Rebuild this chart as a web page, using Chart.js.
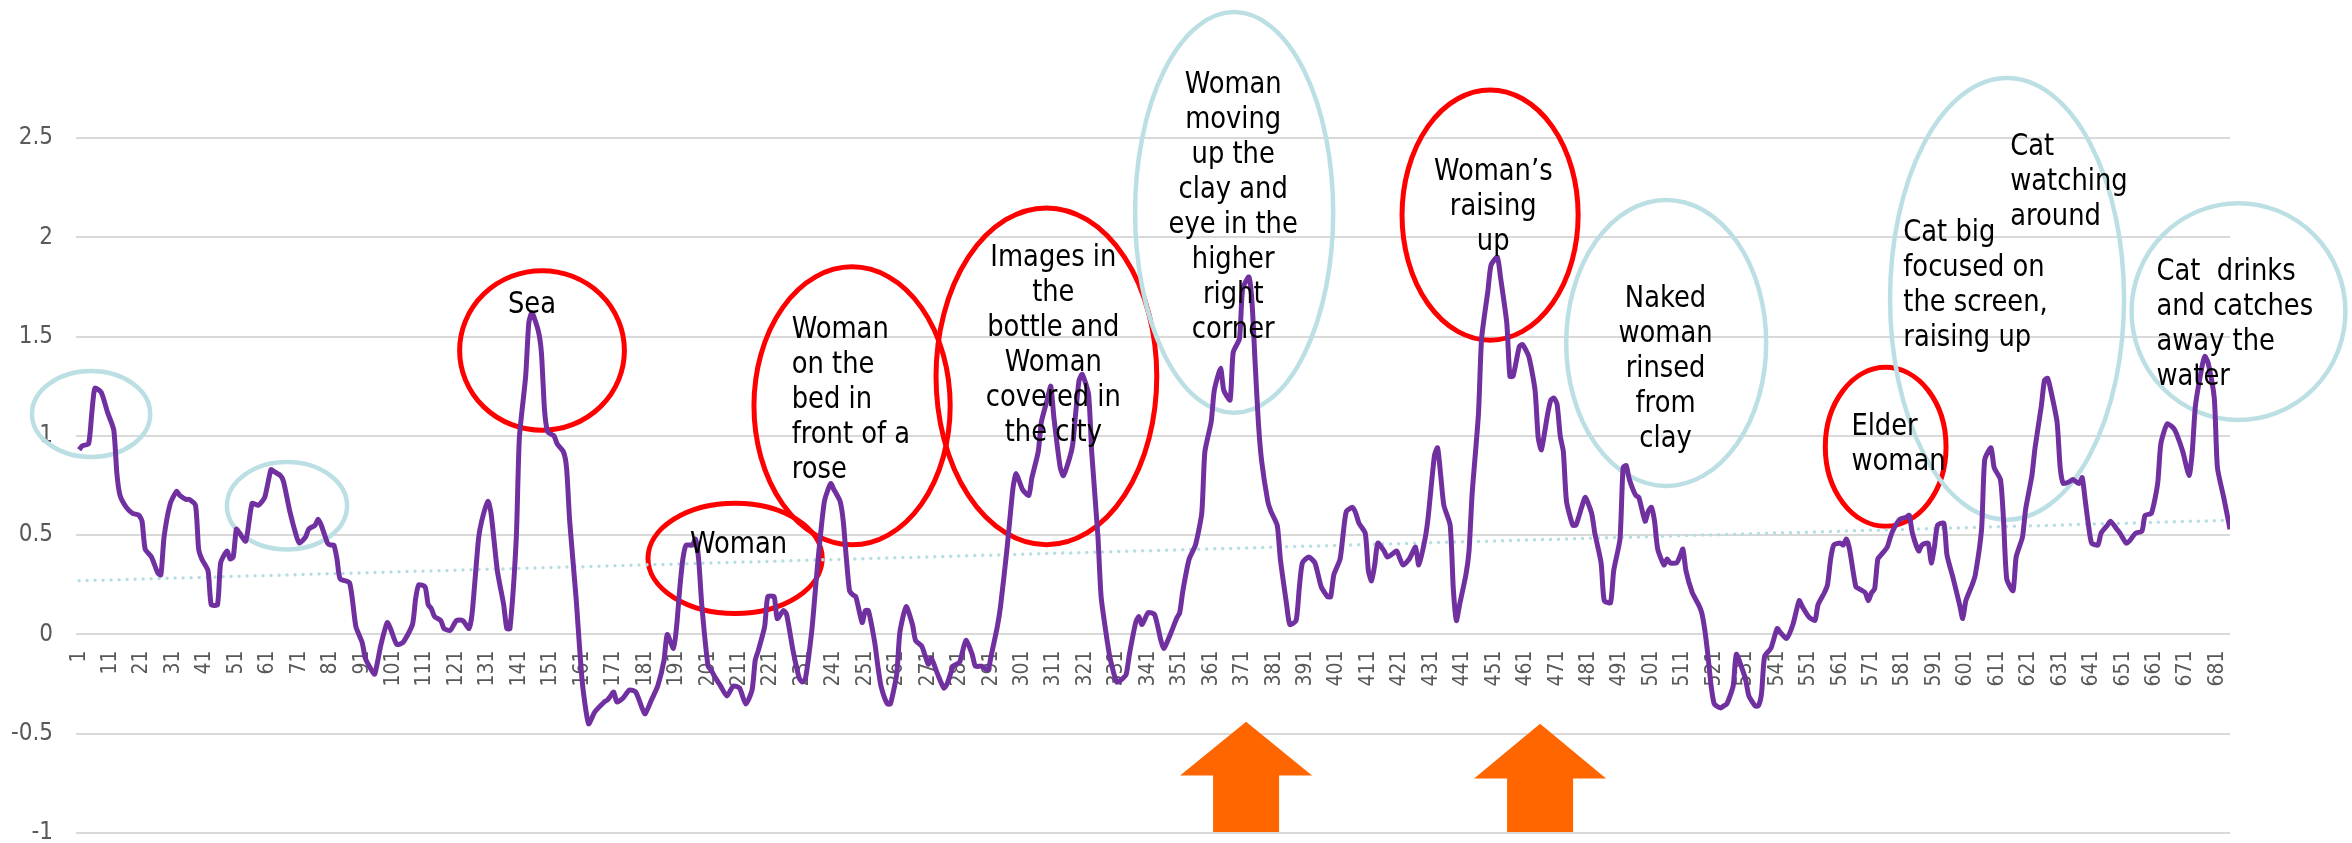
<!DOCTYPE html>
<html>
<head>
<meta charset="utf-8">
<script src="https://cdn.jsdelivr.net/npm/chart.js@4.4.1/dist/chart.umd.min.js"></script>
<style>
  html, body { margin: 0; padding: 0; background: #fff; }
</style>
</head>
<body>
<canvas id="chart" width="2352" height="843"></canvas>
<script>
const FONT = '"DejaVu Sans Condensed", "DejaVu Sans", sans-serif';
const RED = '#ff0000';
const BLUE = '#bcdfe4';

// frame index (x) and value (y)
const frames = [
  1, 2, 4, 5, 6, 8, 10, 12, 13, 14, 16, 18, 20, 21, 22, 24, 26, 27, 28, 30,
  32, 33, 35, 36, 38, 39, 40, 42, 43, 45, 46, 48, 49, 50, 51, 52, 54, 56, 58, 60,
  62, 63, 65, 66, 68, 70, 71, 73, 74, 76, 77, 78, 80, 81, 82, 83, 84, 87, 89, 91,
  92, 94, 95, 97, 99, 100, 102, 104, 107, 108, 109, 111, 112, 113, 114, 116, 117, 119, 121, 123,
  125, 126, 128, 129, 131, 132, 134, 136, 137, 138, 140, 141, 143, 144, 145, 147, 148, 149, 150, 152,
  153, 155, 156, 157, 159, 161, 163, 165, 168, 169, 170, 171, 172, 174, 176, 178, 180, 181, 183, 185,
  187, 188, 190, 191, 192, 193, 194, 196, 197, 198, 199, 201, 202, 203, 205, 207, 209, 211, 213, 215,
  216, 217, 219, 220, 222, 223, 225, 226, 228, 230, 231, 232, 234, 235, 236, 238, 240, 241, 243, 244,
  245, 246, 247, 248, 250, 251, 252, 254, 255, 256, 258, 259, 261, 262, 264, 266, 267, 269, 271, 272,
  274, 276, 277, 279, 281, 283, 285, 286, 288, 290, 291, 293, 294, 296, 298, 299, 301, 303, 304, 306,
  307, 309, 310, 311, 313, 314, 316, 317, 318, 319, 320, 322, 323, 325, 326, 328, 329, 331, 333, 334,
  335, 337, 338, 339, 341, 343, 345, 346, 348, 350, 351, 352, 354, 356, 358, 359, 361, 362, 364, 365,
  367, 368, 370, 371, 373, 374, 375, 376, 377, 379, 380, 382, 383, 385, 386, 388, 389, 390, 392, 394,
  396, 398, 399, 400, 402, 403, 404, 406, 407, 408, 410, 411, 412, 413, 414, 416, 417, 419, 420, 422,
  424, 426, 427, 429, 430, 432, 433, 434, 435, 437, 438, 439, 440, 442, 443, 444, 446, 447, 449, 450,
  452, 453, 455, 456, 457, 459, 460, 462, 464, 465, 466, 468, 469, 470, 471, 472, 473, 474, 476, 477,
  479, 480, 482, 483, 485, 486, 488, 489, 491, 492, 493, 494, 496, 497, 499, 500, 501, 502, 503, 505,
  506, 507, 509, 510, 511, 512, 514, 516, 517, 518, 519, 520, 521, 523, 524, 525, 527, 528, 530, 531,
  532, 534, 535, 536, 537, 539, 541, 542, 544, 546, 548, 549, 551, 553, 554, 556, 557, 558, 559, 561,
  562, 563, 564, 566, 567, 569, 570, 571, 572, 573, 574, 576, 577, 578, 580, 582, 583, 584, 586, 587,
  589, 590, 591, 592, 594, 595, 597, 599, 600, 601, 603, 604, 606, 607, 609, 610, 612, 613, 614, 616,
  617, 619, 620, 622, 623, 625, 626, 627, 628, 630, 631, 632, 634, 635, 637, 638, 639, 640, 641, 643,
  644, 646, 647, 649, 650, 652, 653, 655, 657, 658, 660, 662, 663, 665, 667, 668, 670, 672, 673, 674,
  676, 677, 678, 680, 681, 683, 685
];
const scores = [
  0.93, 0.95, 0.96, 1.11, 1.24, 1.22, 1.12, 1.03, 0.81, 0.70, 0.64, 0.61, 0.60, 0.57, 0.43, 0.39, 0.31, 0.30, 0.49, 0.66,
  0.72, 0.70, 0.68, 0.68, 0.65, 0.43, 0.38, 0.32, 0.15, 0.15, 0.36, 0.42, 0.38, 0.39, 0.53, 0.51, 0.47, 0.66, 0.65, 0.69,
  0.83, 0.82, 0.80, 0.77, 0.62, 0.50, 0.46, 0.49, 0.53, 0.55, 0.58, 0.55, 0.46, 0.45, 0.45, 0.38, 0.28, 0.26, 0.04, -0.04,
  -0.12, -0.18, -0.20, -0.05, 0.06, 0.03, -0.05, -0.04, 0.05, 0.18, 0.25, 0.24, 0.15, 0.13, 0.09, 0.07, 0.03, 0.02, 0.07, 0.07,
  0.03, 0.11, 0.48, 0.57, 0.67, 0.61, 0.32, 0.15, 0.03, 0.03, 0.48, 0.99, 1.30, 1.57, 1.62, 1.53, 1.42, 1.13, 1.02, 1.00,
  0.96, 0.92, 0.84, 0.57, 0.19, -0.24, -0.45, -0.39, -0.34, -0.33, -0.31, -0.29, -0.34, -0.32, -0.28, -0.29, -0.37, -0.40, -0.33, -0.26,
  -0.13, 0.00, -0.07, 0.04, 0.23, 0.38, 0.45, 0.45, 0.48, 0.38, 0.15, -0.16, -0.18, -0.21, -0.26, -0.31, -0.26, -0.27, -0.35, -0.28,
  -0.13, -0.08, 0.04, 0.19, 0.19, 0.08, 0.12, 0.10, -0.08, -0.22, -0.24, -0.22, 0.02, 0.20, 0.38, 0.67, 0.76, 0.73, 0.67, 0.57,
  0.38, 0.22, 0.20, 0.19, 0.06, 0.12, 0.12, -0.04, -0.16, -0.26, -0.35, -0.35, -0.20, 0.01, 0.14, 0.05, -0.03, -0.06, -0.15, -0.12,
  -0.20, -0.27, -0.25, -0.16, -0.14, -0.03, -0.10, -0.16, -0.16, -0.18, -0.11, 0.04, 0.14, 0.42, 0.74, 0.81, 0.73, 0.70, 0.79, 0.92,
  1.07, 1.19, 1.25, 1.09, 0.84, 0.80, 0.89, 0.96, 1.13, 1.28, 1.31, 1.21, 0.92, 0.49, 0.19, -0.04, -0.13, -0.24, -0.22, -0.20,
  -0.10, 0.06, 0.09, 0.05, 0.11, 0.10, -0.03, -0.07, 0.00, 0.08, 0.11, 0.22, 0.38, 0.45, 0.61, 0.92, 1.07, 1.23, 1.34, 1.23,
  1.18, 1.42, 1.49, 1.74, 1.80, 1.67, 1.36, 1.07, 0.88, 0.67, 0.62, 0.55, 0.38, 0.15, 0.05, 0.07, 0.23, 0.36, 0.39, 0.36,
  0.24, 0.19, 0.19, 0.30, 0.38, 0.51, 0.62, 0.64, 0.61, 0.56, 0.51, 0.32, 0.27, 0.35, 0.46, 0.42, 0.39, 0.41, 0.42, 0.35,
  0.38, 0.44, 0.35, 0.48, 0.59, 0.90, 0.94, 0.80, 0.65, 0.55, 0.23, 0.07, 0.15, 0.30, 0.42, 0.71, 1.11, 1.49, 1.73, 1.86,
  1.90, 1.80, 1.57, 1.30, 1.30, 1.45, 1.46, 1.40, 1.23, 0.99, 0.93, 1.11, 1.18, 1.19, 1.16, 1.00, 0.92, 0.67, 0.55, 0.55,
  0.65, 0.69, 0.61, 0.51, 0.36, 0.17, 0.16, 0.32, 0.48, 0.84, 0.85, 0.78, 0.70, 0.69, 0.57, 0.62, 0.64, 0.57, 0.43, 0.35,
  0.38, 0.36, 0.36, 0.39, 0.43, 0.32, 0.21, 0.15, 0.11, 0.02, -0.11, -0.26, -0.35, -0.37, -0.36, -0.35, -0.26, -0.10, -0.18, -0.23,
  -0.31, -0.36, -0.36, -0.30, -0.11, -0.07, 0.03, 0.01, -0.02, 0.05, 0.17, 0.14, 0.09, 0.07, 0.15, 0.21, 0.25, 0.38, 0.45, 0.46,
  0.45, 0.48, 0.43, 0.24, 0.23, 0.21, 0.17, 0.21, 0.23, 0.38, 0.40, 0.44, 0.49, 0.53, 0.58, 0.59, 0.60, 0.51, 0.42, 0.45,
  0.46, 0.36, 0.44, 0.55, 0.56, 0.40, 0.28, 0.15, 0.08, 0.17, 0.25, 0.30, 0.53, 0.88, 0.94, 0.84, 0.78, 0.57, 0.28, 0.22,
  0.39, 0.49, 0.63, 0.80, 0.94, 1.15, 1.28, 1.29, 1.23, 1.07, 0.84, 0.76, 0.77, 0.78, 0.76, 0.79, 0.67, 0.55, 0.46, 0.45,
  0.51, 0.55, 0.57, 0.53, 0.51, 0.46, 0.47, 0.51, 0.52, 0.60, 0.61, 0.76, 0.96, 1.06, 1.04, 1.01, 0.92, 0.80, 0.92, 1.15,
  1.34, 1.40, 1.37, 1.19, 0.84, 0.69, 0.53
];

// linear trend line end points
const trendFrames = [1, 685];
const trendScores = [0.27, 0.575];

// category tick labels on the x axis
const xTicks = [
  1, 11, 21, 31, 41, 51, 61, 71, 81, 91, 101, 111, 121, 131, 141, 151, 161, 171, 181, 191,
  201, 211, 221, 231, 241, 251, 261, 271, 281, 291, 301, 311, 321, 331, 341, 351, 361, 371, 381, 391,
  401, 411, 421, 431, 441, 451, 461, 471, 481, 491, 501, 511, 521, 531, 541, 551, 561, 571, 581, 591,
  601, 611, 621, 631, 641, 651, 661, 671, 681
];

// hand-drawn ellipses (centre and radii in frame / value units)
const ellipses = [
  { cx: 4.8, cy: 1.11, rx: 18.8, ry: 0.216, color: BLUE },
  { cx: 67.1, cy: 0.648, rx: 19.1, ry: 0.22, color: BLUE },
  { cx: 148.2, cy: 1.43, rx: 26.2, ry: 0.402, color: RED },
  { cx: 209.6, cy: 0.383, rx: 27.7, ry: 0.277, color: RED },
  { cx: 246.8, cy: 1.151, rx: 31.2, ry: 0.70, color: RED },
  { cx: 308.6, cy: 1.30, rx: 35.1, ry: 0.848, color: RED },
  { cx: 368.3, cy: 2.125, rx: 31.5, ry: 1.009, color: BLUE },
  { cx: 449.7, cy: 2.112, rx: 28, ry: 0.63, color: RED },
  { cx: 505.7, cy: 1.468, rx: 31.8, ry: 0.72, color: BLUE },
  { cx: 575.5, cy: 0.945, rx: 19.2, ry: 0.40, color: RED },
  { cx: 614.1, cy: 1.69, rx: 37.2, ry: 1.112, color: BLUE },
  { cx: 687.7, cy: 1.626, rx: 34, ry: 0.546, color: BLUE }
];

// captions: x in frames, y = first baseline in value units
const captions = [
  { x: 145.0, y: 1.62, align: 'center', lines: ['Sea'] },
  { x: 210.7, y: 0.412, align: 'center', lines: ['Woman'] },
  { x: 227.6, y: 1.495, align: 'left', lines: ['Woman', 'on the', 'bed in', 'front of a', 'rose'] },
  { x: 310.8, y: 1.855, align: 'center', lines: ['Images in', 'the', 'bottle and', 'Woman', 'covered in', 'the city'] },
  { x: 368.0, y: 2.729, align: 'center', lines: ['Woman', 'moving', 'up the', 'clay and', 'eye in the', 'higher', 'right', 'corner'] },
  { x: 450.7, y: 2.287, align: 'center', lines: ['Woman\u2019s', 'raising', 'up'] },
  { x: 505.5, y: 1.647, align: 'center', lines: ['Naked', 'woman', 'rinsed', 'from', 'clay'] },
  { x: 564.6, y: 1.0025, align: 'left', lines: ['Elder', 'woman'] },
  { x: 581.1, y: 1.979, align: 'left', lines: ['Cat big', 'focused on', 'the screen,', 'raising up'] },
  { x: 615.1, y: 2.412, align: 'left', lines: ['Cat', 'watching', 'around'] },
  { x: 661.6, y: 1.787, align: 'left', lines: ['Cat  drinks', 'and catches', 'away the', 'water'] }
];

// orange up arrows under the two big peaks
const arrows = [
  { x: 372.1, tip: -0.44, neck: -0.71, base: -0.995 },
  { x: 465.6, tip: -0.45, neck: -0.725, base: -0.995 }
];

const ellipsePlugin = {
  id: 'ellipses',
  beforeDatasetsDraw(chart) {
    const { ctx, scales: { x, y } } = chart;
    ctx.save();
    ellipses.forEach(e => {
      const px = x.getPixelForValue(e.cx);
      const py = y.getPixelForValue(e.cy);
      const rx = x.getPixelForValue(e.cx + e.rx) - px;
      const ry = py - y.getPixelForValue(e.cy + e.ry);
      ctx.beginPath();
      ctx.ellipse(px, py, rx, ry, 0, 0, Math.PI * 2);
      ctx.lineWidth = e.color === RED ? 5 : 4.5;
      ctx.strokeStyle = e.color;
      ctx.stroke();
    });
    ctx.restore();
  }
};

const notesPlugin = {
  id: 'notes',
  afterDatasetsDraw(chart) {
    const { ctx, scales: { x, y } } = chart;
    ctx.save();
    // arrows
    ctx.fillStyle = '#ff6600';
    arrows.forEach(a => {
      const cx = x.getPixelForValue(a.x);
      const tip = y.getPixelForValue(a.tip);
      const neck = y.getPixelForValue(a.neck);
      const base = y.getPixelForValue(a.base);
      ctx.beginPath();
      ctx.moveTo(cx, tip);
      ctx.lineTo(cx + 66, neck);
      ctx.lineTo(cx + 33, neck);
      ctx.lineTo(cx + 33, base);
      ctx.lineTo(cx - 33, base);
      ctx.lineTo(cx - 33, neck);
      ctx.lineTo(cx - 66, neck);
      ctx.closePath();
      ctx.fill();
    });
    // captions (the original text is slightly squeezed sideways)
    ctx.fillStyle = '#000';
    ctx.font = '30px "DejaVu Sans", sans-serif';
    ctx.textBaseline = 'alphabetic';
    captions.forEach(c => {
      const px = x.getPixelForValue(c.x);
      const py = y.getPixelForValue(c.y);
      ctx.textAlign = c.align;
      c.lines.forEach((line, i) => {
        ctx.save();
        ctx.translate(px, py + i * 35);
        ctx.scale(0.86, 1);
        ctx.fillText(line, 0, 0);
        ctx.restore();
      });
    });
    ctx.restore();
  }
};

new Chart(document.getElementById('chart'), {
  type: 'line',
  data: {
    datasets: [
      {
        label: 'score',
        data: frames.map((f, i) => ({ x: f, y: scores[i] })),
        borderColor: '#7030a0',
        borderWidth: 5,
        pointRadius: 0,
        tension: 0.2,
        fill: false,
        order: 1
      },
      {
        label: 'trend',
        data: trendFrames.map((f, i) => ({ x: f, y: trendScores[i] })),
        borderColor: '#b7dde3',
        borderWidth: 3.5,
        borderDash: [0, 8],
        borderCapStyle: 'round',
        pointRadius: 0,
        fill: false,
        order: 2
      }
    ]
  },
  options: {
    responsive: false,
    animation: false,
    events: [],
    layout: { padding: { top: 138, right: 122, bottom: 10, left: 0 } },
    plugins: { legend: { display: false }, tooltip: { enabled: false } },
    scales: {
      x: {
        type: 'linear',
        position: { y: 0 },
        min: 0,
        max: 685,
        grid: { display: false, drawTicks: false },
        border: { display: false },
        afterBuildTicks: (scale) => { scale.ticks = xTicks.map(v => ({ value: v })); },
        afterFit: (scale) => { scale.height = 0; },
        ticks: {
          autoSkip: false,
          minRotation: 90,
          maxRotation: 90,
          padding: 16,
          color: '#595959',
          font: { family: FONT, size: 21 },
          callback: (v) => String(v)
        }
      },
      y: {
        min: -1,
        max: 2.5,
        afterFit: (scale) => { scale.width = 76; },
        // invisible tick marks give the label gap without adding vertical padding
        grid: { color: '#d9d9d9', lineWidth: 2, drawTicks: true, tickLength: 23, tickColor: 'rgba(0,0,0,0)' },
        border: { display: false },
        ticks: {
          stepSize: 0.5,
          padding: 0,
          color: '#595959',
          font: { family: FONT, size: 24, lineHeight: 0.8 },
          callback: (v) => String(Math.round(v * 10) / 10)
        }
      }
    }
  },
  plugins: [ellipsePlugin, notesPlugin]
});
</script>
</body>
</html>
